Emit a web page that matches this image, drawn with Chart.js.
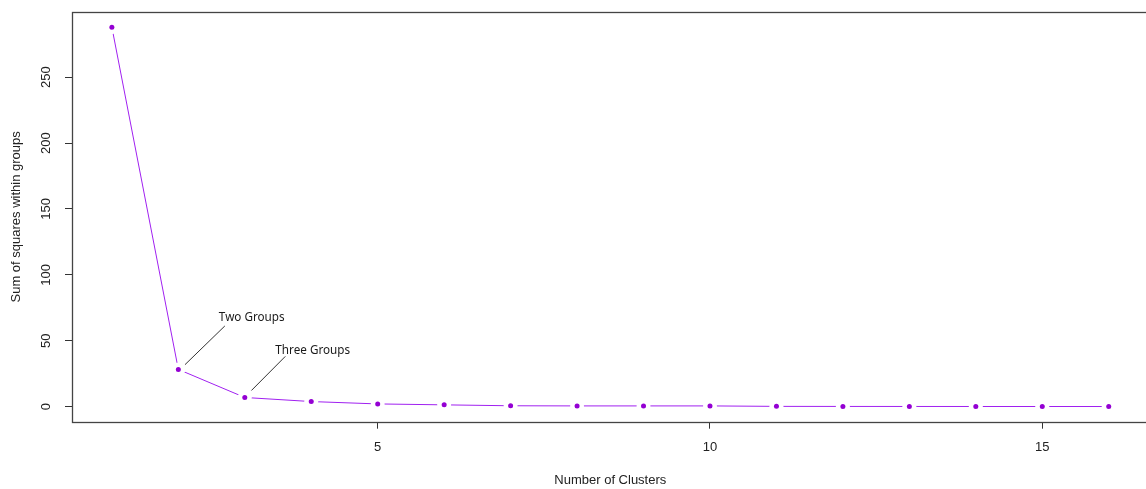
<!DOCTYPE html>
<html>
<head>
<meta charset="utf-8">
<script src="https://cdn.jsdelivr.net/npm/chart.js@4"></script>
<style>
  html, body { margin: 0; padding: 0; background: #fff; overflow: hidden; }
  #wrap { width: 1160px; height: 489px; }
</style>
</head>
<body>
<div id="wrap"><canvas id="elbow" width="1160" height="489"></canvas></div>
<script>
// number of clusters and within-group sum of squares
const clusters = [1, 2, 3, 4, 5, 6, 7, 8, 9, 10, 11, 12, 13, 14, 15, 16];
const wss = [288, 28.2, 6.9, 3.8, 2.0, 1.3, 0.6, 0.5, 0.5, 0.5, 0.15, 0.1, 0.08, 0.06, 0.04, 0.03];

const xTicks = [5, 10, 15];
const yTicks = [0, 50, 100, 150, 200, 250];

const xTitle = 'Number of Clusters';
const yTitle = 'Sum of squares within groups';

// annotation labels: text anchor and leader line in data units
const noteLabels = ['Two Groups', 'Three Groups'];
const noteText = [[2.61, 67.3], [3.46, 42.1]];
const noteFrom = [[2.1, 31.8], [3.1, 12.2]];
const noteTo = [[2.7, 61.2], [3.61, 38.1]];

const pts = clusters.map((c, i) => ({ x: c, y: wss[i] }));
const xlo = Math.min(...clusters), xhi = Math.max(...clusters);
const ylo = Math.min(...wss), yhi = Math.max(...wss);
const xpad = (xhi - xlo) * 0.04, ypad = (yhi - ylo) * 0.04;

const rFont = '13px "Liberation Sans", Arial, sans-serif';

const extras = {
  id: 'extras',
  afterDraw(chart) {
    const { ctx, chartArea: a, scales } = chart;
    ctx.save();
    // box round the plot
    ctx.strokeStyle = '#444';
    ctx.lineWidth = 1.3;
    ctx.strokeRect(Math.round(a.left) + 0.5, Math.round(a.top) + 0.5,
      Math.round(a.right - a.left), Math.round(a.bottom - a.top));

    ctx.fillStyle = '#222';
    ctx.font = rFont;
    ctx.textAlign = 'center';
    ctx.textBaseline = 'middle';
    // y tick labels, turned like R's
    yTicks.forEach(v => {
      const py = scales.y.getPixelForValue(v);
      ctx.save();
      ctx.translate(46, py);
      ctx.rotate(-Math.PI / 2);
      ctx.fillText(String(v), 0, 0);
      ctx.restore();
    });
    // axis titles
    ctx.fillText(xTitle, (a.left + a.right) / 2, 480);
    ctx.save();
    ctx.translate(16, (a.top + a.bottom) / 2);
    ctx.rotate(-Math.PI / 2);
    ctx.fillText(yTitle, 0, 0);
    ctx.restore();

    // annotation texts
    ctx.fillStyle = '#1a1a1a';
    ctx.font = '11.7px "Noto Sans", sans-serif';
    ctx.textAlign = 'left';
    noteLabels.forEach((t, i) => {
      ctx.fillText(t, scales.x.getPixelForValue(noteText[i][0]),
        scales.y.getPixelForValue(noteText[i][1]));
    });
    ctx.restore();
  }
};

const leaderSets = noteLabels.map((t, i) => ({
  data: [{ x: noteFrom[i][0], y: noteFrom[i][1] }, { x: noteTo[i][0], y: noteTo[i][1] }],
  borderColor: '#333',
  borderWidth: 1,
  pointRadius: 0,
  showLine: true
}));

new Chart(document.getElementById('elbow'), {
  type: 'scatter',
  data: {
    datasets: [
      ...leaderSets,
      {
        // the dots
        data: pts,
        showLine: false,
        pointRadius: 2.5,
        pointBorderWidth: 0,
        pointBackgroundColor: '#9400d3'
      },
      {
        // the line, with white gaps round each dot (type = "b")
        data: pts,
        showLine: true,
        borderColor: '#a020f0',
        borderWidth: 1,
        pointRadius: 7,
        pointBorderWidth: 0,
        pointBackgroundColor: '#fff'
      }
    ]
  },
  options: {
    responsive: false,
    animation: false,
    layout: { padding: { top: 12, right: 11.4, left: 0, bottom: 0 } },
    plugins: { legend: { display: false }, tooltip: { enabled: false } },
    scales: {
      x: {
        type: 'linear',
        min: xlo - xpad,
        max: xhi + xpad,
        afterBuildTicks: s => { s.ticks = xTicks.map(v => ({ value: v })); },
        afterFit: s => { s.height = 67.3; },
        grid: { drawOnChartArea: false, color: '#333', tickLength: 7 },
        border: { display: false },
        ticks: { color: '#222', font: { family: '"Liberation Sans", Arial, sans-serif', size: 13 }, padding: 11, maxRotation: 0 }
      },
      y: {
        type: 'linear',
        min: ylo - ypad,
        max: yhi + ypad,
        afterBuildTicks: s => { s.ticks = yTicks.map(v => ({ value: v })); },
        afterFit: s => { s.width = 72; },
        grid: { drawOnChartArea: false, color: '#333', tickLength: 7 },
        border: { display: false },
        ticks: { display: false }
      }
    }
  },
  plugins: [extras]
});
</script>
</body>
</html>
